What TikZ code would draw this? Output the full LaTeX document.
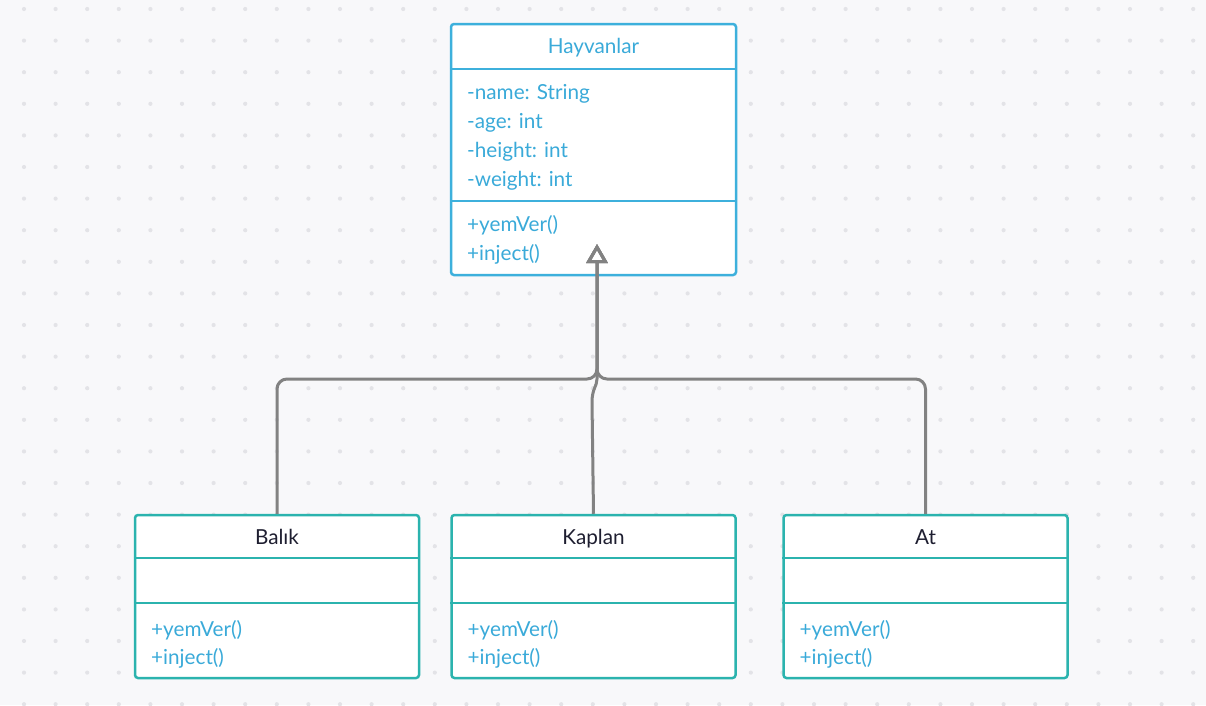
\documentclass[tikz,border=0pt]{standalone}
\usepackage{fontspec}
\setmainfont{Lato}
\usetikzlibrary{arrows.meta}
\definecolor{zemin}{HTML}{F8F8FA}
\definecolor{nokta}{HTML}{E3E3E7}
\definecolor{kenarMavi}{HTML}{3DB0DC}
\definecolor{kenarYesil}{HTML}{2BB3AE}
\definecolor{uyeMavi}{HTML}{3AAAD9}
\definecolor{koyu}{HTML}{1E1E30}
\definecolor{okGri}{HTML}{828282}
\begin{document}
\begin{tikzpicture}[x=1pt,y=-1pt]
\tikzstyle{sinif}=[draw=kenarMavi,line width=2.5pt,fill=white,rounded corners=3pt,inner sep=0pt]
\tikzstyle{uye}=[anchor=mid west,text=uyeMavi,inner sep=0pt,font=\fontsize{20.7}{25}\selectfont]
\tikzstyle{baslik}=[anchor=mid,inner sep=0pt,font=\fontsize{20.7}{25}\selectfont]
\tikzstyle{kalitim}=[draw=okGri,line width=3pt,rounded corners=10pt,-{Triangle[open,length=19pt,width=21pt]}]

% Zemin
\useasboundingbox (0,0) rectangle (1206,705);
\fill[zemin] (0,0) rectangle (1206,705);
\foreach \i in {0,...,37}
  \foreach \j in {0,...,22}
    \fill[nokta] (24+31.6*\i,9+31.6*\j) circle (2.1pt);

% Sinif Hayvanlar
\node[sinif,minimum width=285,minimum height=251] (Hayvanlar) at (593.5,149.5) {};
\draw[kenarMavi,line width=2.5pt] ([yshift=-46pt]Hayvanlar.north west) -- ([yshift=-46pt]Hayvanlar.north east);
\draw[kenarMavi,line width=2.5pt] ([yshift=-178pt]Hayvanlar.north west) -- ([yshift=-178pt]Hayvanlar.north east);
\node[baslik,text=uyeMavi] (Hb) at (593.5,51) {Hayvanlar};
\foreach \ad [count=\k] in {-name: String,-age: int,-height: int,-weight: int}
  \node[uye] (Ha\k) at (467,68.5+28.75*\k) {\ad};
\node[uye] (Hm1) at (467,229) {+yemVer()};
\node[uye] (Hm2) at (467,258) {+inject()};

% Alt siniflar
\foreach \ad/\yazi/\x in {Balik/Balık/277,Kaplan/Kaplan/593.5,At/At/925.5}{
  \node[sinif,draw=kenarYesil,minimum width=284,minimum height=163] (\ad) at (\x,596.5) {};
  \draw[kenarYesil,line width=2.5pt] ([yshift=-44pt]\ad.north west) -- ([yshift=-44pt]\ad.north east);
  \draw[kenarYesil,line width=2.5pt] ([yshift=-89pt]\ad.north west) -- ([yshift=-89pt]\ad.north east);
  \node[baslik,text=koyu] (\ad b) at (\x,542) {\yazi};
  \node[uye] (\ad m1) at (\x-126,634) {+yemVer()};
  \node[uye] (\ad m2) at (\x-126,662) {+inject()};
}

% Kalitim oklari
\coordinate (uc) at (597,244);
\coordinate (birlesim) at (597,379);
\draw[kalitim] (Balik.north) |- (birlesim) -- (uc);
\draw[kalitim] (At.north) |- (birlesim) -- (uc);
\draw[kalitim,rounded corners=0pt] (Kaplan.north) -- (592,402) .. controls (592,389) and (597,386) .. (birlesim) -- (uc);

\end{tikzpicture}
\end{document}
